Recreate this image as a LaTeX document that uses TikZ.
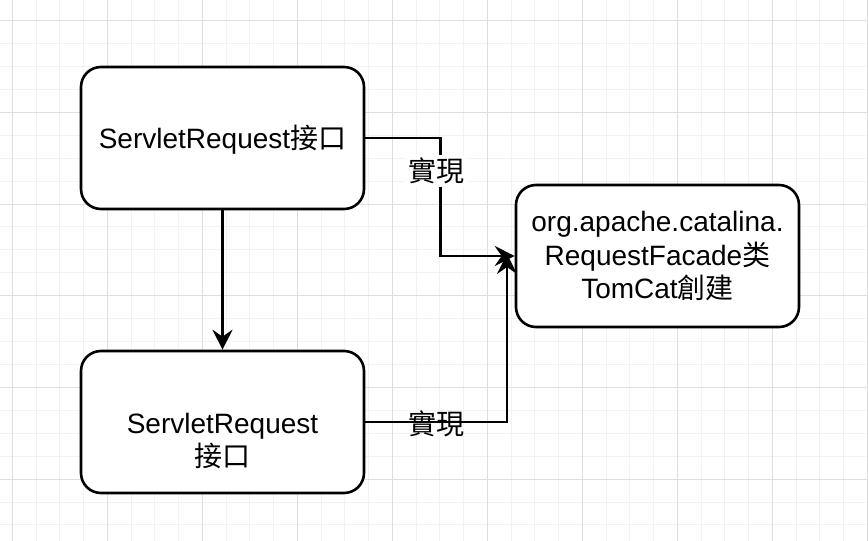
\documentclass[tikz,border=0pt]{standalone}
\usepackage{fontspec}
\setmainfont{Liberation Sans}
\newfontfamily\cjk{Noto Sans CJK SC}
\usetikzlibrary{arrows.meta,positioning}
\begin{document}
\begin{tikzpicture}[x=0.5pt, y=-0.5pt,
  every node/.style={font=\fontsize{14}{16.8}\selectfont},
  card/.style={draw, line width=1.3pt, rounded corners=10pt, fill=white,
    minimum width=141.5pt, minimum height=71pt, align=center, inner sep=0pt},
  link/.style={line width=1.3pt, -{Stealth[length=10pt,width=10pt,inset=3.5pt]}},
  minorgrid/.style={black!5, line width=0.5pt},
  majorgrid/.style={black!13, line width=0.5pt}]
  \useasboundingbox (0,0) rectangle (868,541);
  \fill[white] (0,0) rectangle (868,541);
  % grid
  \foreach \k in {0,...,36} \draw[minorgrid] ({12.3+23.75*\k},0) -- ++(0,541);
  \foreach \k in {0,...,22} \draw[minorgrid] (0,{20.7+22.92*\k}) -- ++(868,0);
  \foreach \k in {0,...,9} \draw[majorgrid] ({12.3+95*\k},0) -- ++(0,541);
  \foreach \k in {0,...,5} \draw[majorgrid] (0,{20.7+91.7*\k}) -- ++(868,0);
  % boxes
  \node[card, text depth=1pt] (iface) at (222.5,138) {ServletRequest{\cjk 接口}};
  \node[card, label={[name=subtext, align=center, yshift=-9.5pt]center:ServletRequest\\{\cjk 接口}}]
    (sub) at (222.5,422) {};
  \node[card] (facade) at (657.5,256) {org.apache.catalina.\\RequestFacade{\cjk 类}\\TomCat{\cjk 創建}};
  % connectors
  \coordinate (tip2) at (507,254);
  \draw[link] (iface) -- (sub);
  \draw[link] (iface.east) -- ++(75,0) |- (facade.west);
  \draw[link] (sub.east) -| (tip2);
  \node[fill=white, inner sep=1.5pt] (impl1) at (436,171) {{\cjk 實現}};
  \node (impl2) at (436,424) {{\cjk 實現}};
\end{tikzpicture}
\end{document}
